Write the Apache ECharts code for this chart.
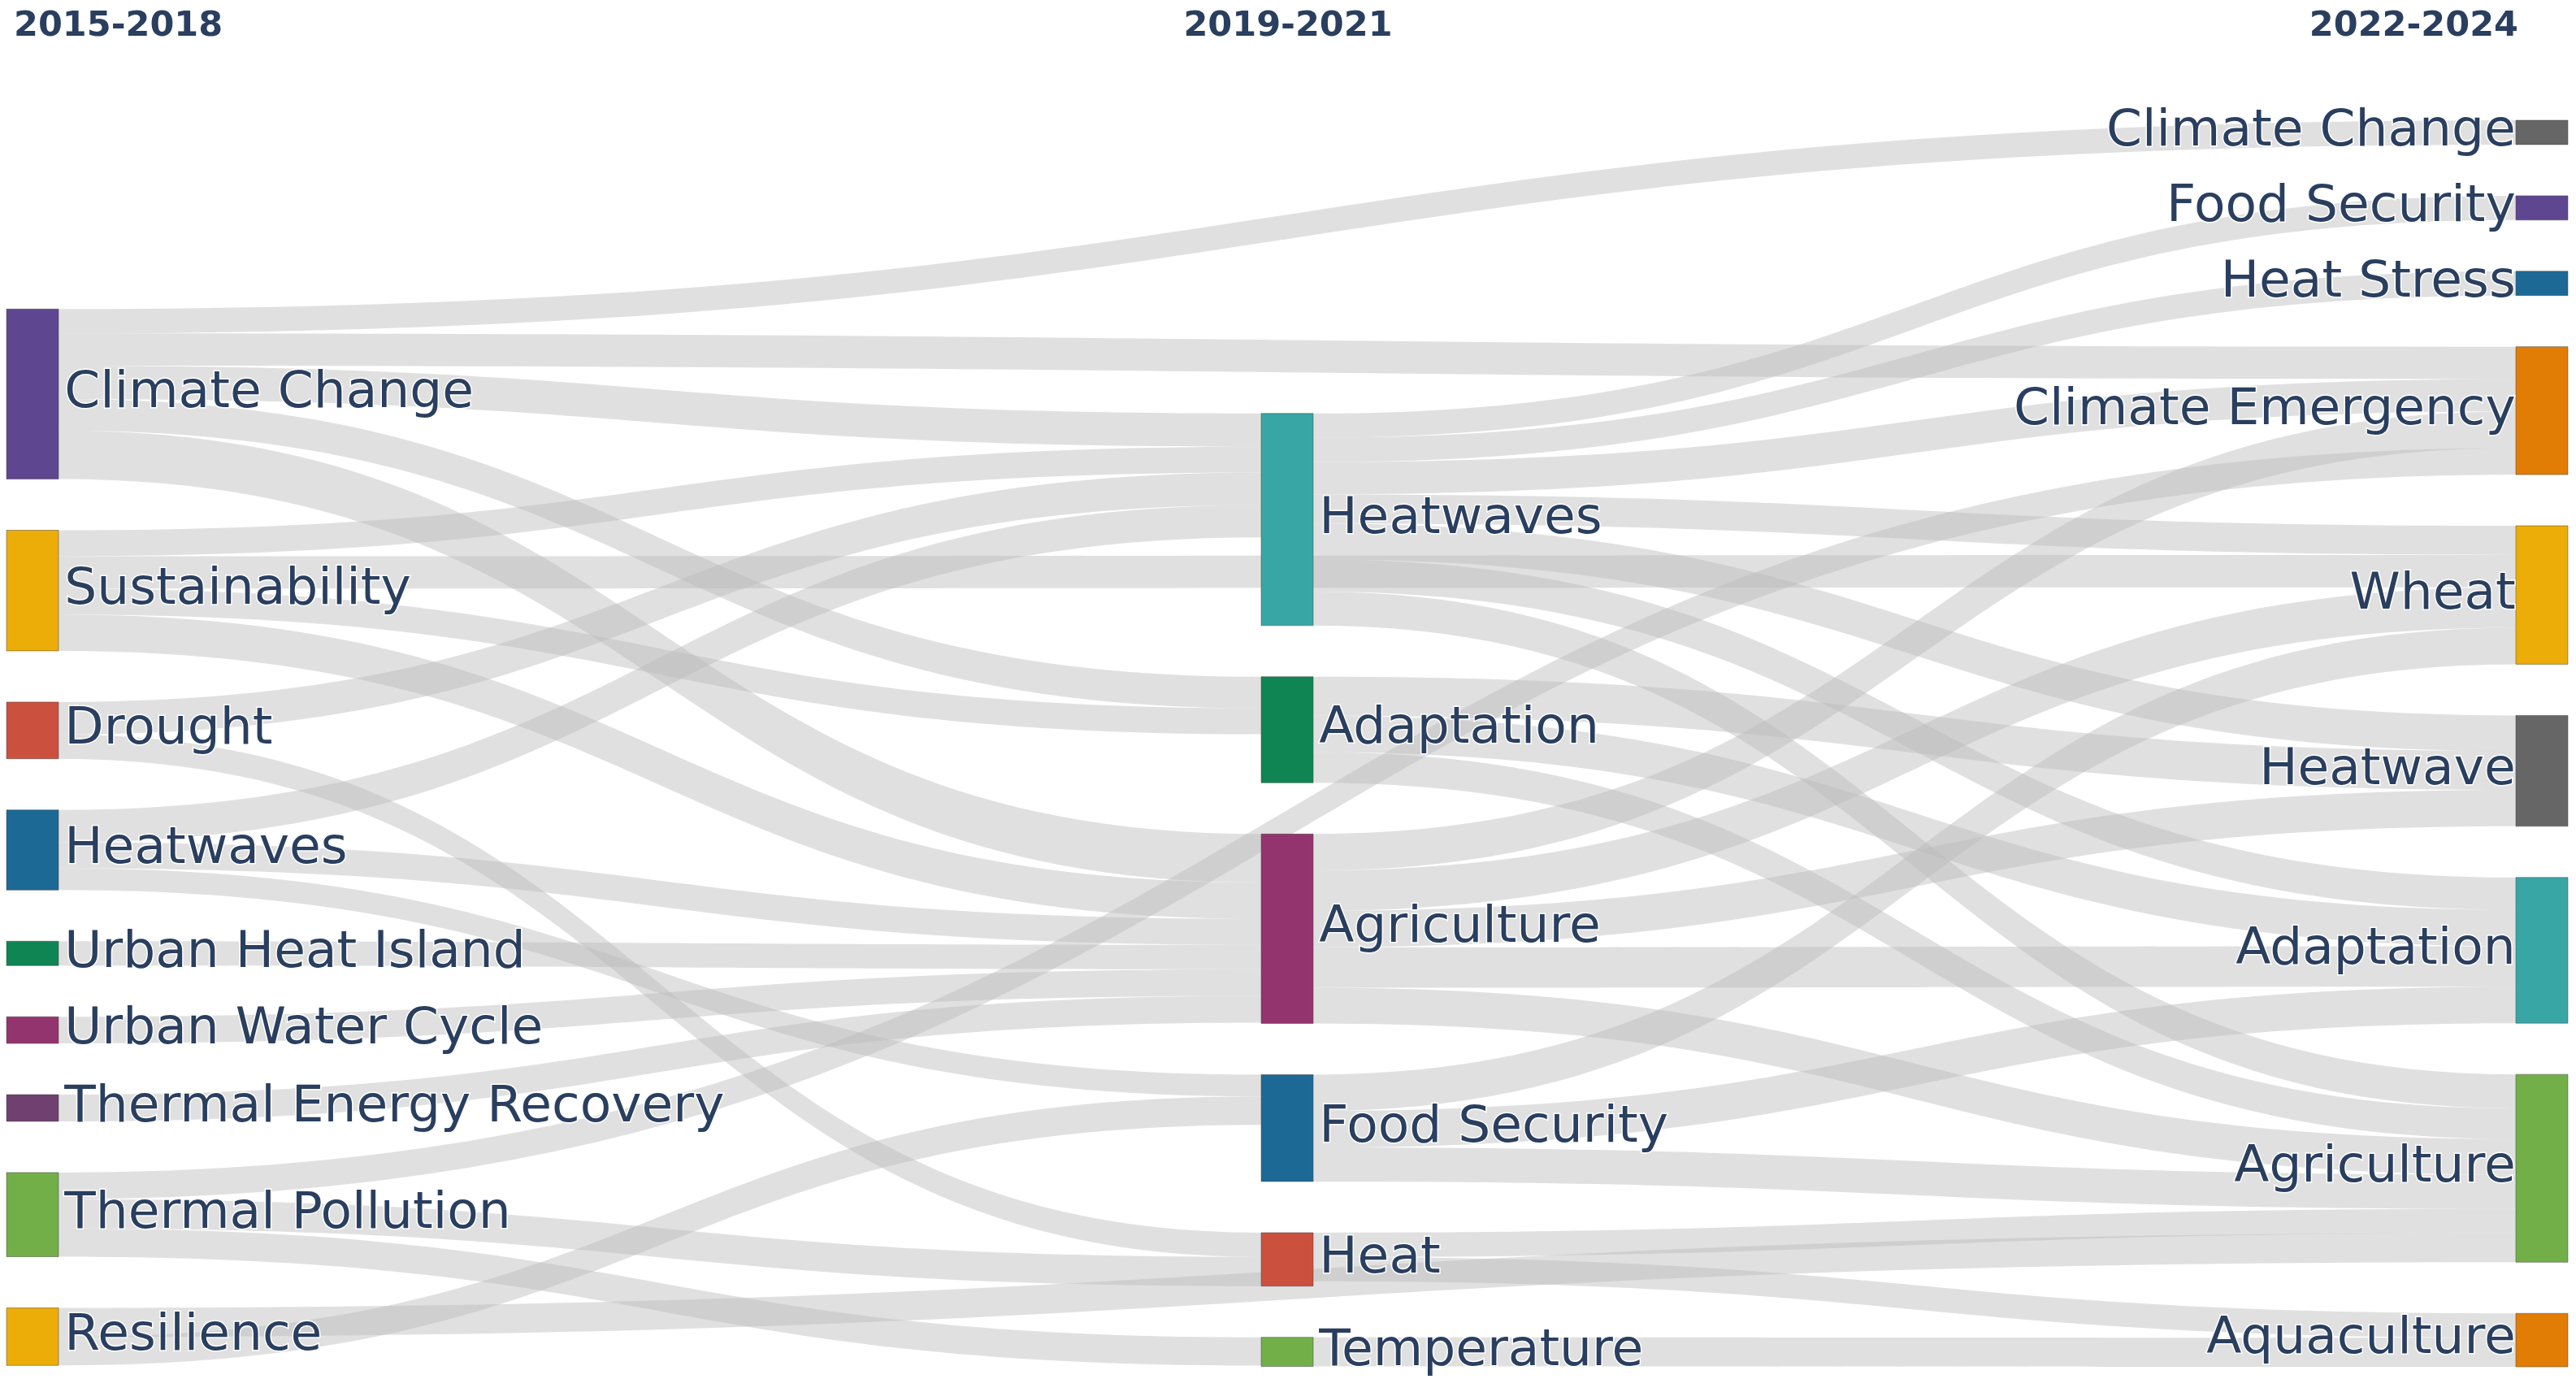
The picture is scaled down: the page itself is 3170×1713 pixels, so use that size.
<!DOCTYPE html>
<html>
<head>
<meta charset="utf-8">
<script src="https://cdn.jsdelivr.net/npm/echarts@6/dist/echarts.min.js"></script>
<style>
html,body{margin:0;padding:0;background:#fff;}
#chart{width:3170px;height:1713px;}
</style>
</head>
<body>
<div id="chart"></div>
<script>
// ---------------- DATA ----------------
const periods = ['2015-2018', '2019-2021', '2022-2024'];

const topics2015 = ['Climate Change', 'Sustainability', 'Drought', 'Heatwaves', 'Urban Heat Island',
  'Urban Water Cycle', 'Thermal Energy Recovery', 'Thermal Pollution', 'Resilience'];
const topics2019 = ['Heatwaves', 'Adaptation', 'Agriculture', 'Food Security', 'Heat', 'Temperature'];
const topics2022 = ['Climate Change', 'Food Security', 'Heat Stress', 'Climate Emergency', 'Wheat',
  'Heatwave', 'Adaptation', 'Agriculture', 'Aquaculture'];

// [source topic, target topic, weight]
const flows2015to2019 = [
  ['Climate Change', 'Heatwaves', 4.1],
  ['Climate Change', 'Adaptation', 3.9],
  ['Climate Change', 'Agriculture', 6.0],
  ['Sustainability', 'Heatwaves', 3.2],
  ['Sustainability', 'Adaptation', 3.2],
  ['Sustainability', 'Agriculture', 4.5],
  ['Drought', 'Heatwaves', 4.0],
  ['Drought', 'Heat', 3.0],
  ['Heatwaves', 'Heatwaves', 4.0],
  ['Heatwaves', 'Agriculture', 3.2],
  ['Heatwaves', 'Food Security', 2.7],
  ['Urban Heat Island', 'Agriculture', 3.0],
  ['Urban Water Cycle', 'Agriculture', 3.3],
  ['Thermal Energy Recovery', 'Agriculture', 3.3],
  ['Thermal Pollution', 'Heat', 3.6],
  ['Thermal Pollution', 'Temperature', 3.5],
  ['Resilience', 'Food Security', 3.5]
];
const flows2015to2022 = [
  ['Climate Change', 'Climate Change', 3.0],
  ['Climate Change', 'Climate Emergency', 4.0],
  ['Sustainability', 'Wheat', 4.0],
  ['Thermal Pollution', 'Climate Emergency', 3.3],
  ['Resilience', 'Agriculture', 3.6]
];
const flows2019to2022 = [
  ['Heatwaves', 'Food Security', 3.0],
  ['Heatwaves', 'Heat Stress', 3.0],
  ['Heatwaves', 'Climate Emergency', 4.0],
  ['Heatwaves', 'Wheat', 3.6],
  ['Heatwaves', 'Heatwave', 4.4],
  ['Heatwaves', 'Adaptation', 4.0],
  ['Heatwaves', 'Agriculture', 4.2],
  ['Adaptation', 'Heatwave', 4.8],
  ['Adaptation', 'Adaptation', 4.5],
  ['Adaptation', 'Agriculture', 3.8],
  ['Agriculture', 'Climate Emergency', 4.5],
  ['Agriculture', 'Wheat', 5.0],
  ['Agriculture', 'Heatwave', 4.5],
  ['Agriculture', 'Adaptation', 5.0],
  ['Agriculture', 'Agriculture', 4.4],
  ['Food Security', 'Wheat', 4.5],
  ['Food Security', 'Adaptation', 4.5],
  ['Food Security', 'Agriculture', 4.2],
  ['Heat', 'Agriculture', 3.0],
  ['Heat', 'Aquaculture', 3.0],
  ['Temperature', 'Aquaculture', 3.6]
];

// ---------------- STYLE / LAYOUT ----------------
const colors2015 = ['#5F4690', '#EDAD08', '#CC503E', '#1D6996', '#0F8554', '#94346E', '#6F4070', '#73AF48', '#EDAD08'];
const colors2019 = ['#38A6A5', '#0F8554', '#94346E', '#1D6996', '#CC503E', '#73AF48'];
const colors2022 = ['#666666', '#5F4690', '#1D6996', '#E17C05', '#EDAD08', '#666666', '#38A6A5', '#73AF48', '#E17C05'];
// invisible head-room at the top of the first two columns (keeps columns bottom-aligned)
const columnHeadroom = [17.0, 29.9];

const FONT = 'DejaVu Sans';
const TEXT = '#2a3f5f';

const id = (p, t) => periods[p] + '|' + t;
const nodes = [];
function addSpacer(col) {
  nodes.push({
    name: 'spacer' + col, depth: col, value: columnHeadroom[col],
    itemStyle: { color: 'rgba(0,0,0,0)', borderWidth: 0 },
    label: { show: false }, emphasis: { disabled: true }
  });
}
function addColumn(col, topics, colors, pos, dist) {
  topics.forEach((t, i) => nodes.push({
    name: id(col, t), display: t, depth: col,
    itemStyle: { color: colors[i], borderColor: '#444', borderWidth: 0.5 },
    label: { position: pos, distance: dist }
  }));
}
addSpacer(0); addColumn(0, topics2015, colors2015, 'right', 7);
addSpacer(1); addColumn(1, topics2019, colors2019, 'right', 7);
addColumn(2, topics2022, colors2022, 'left', 0);

const links = [];
flows2015to2019.forEach(f => links.push({ source: id(0, f[0]), target: id(1, f[1]), value: f[2] }));
flows2019to2022.forEach(f => links.push({ source: id(1, f[0]), target: id(2, f[1]), value: f[2] }));
flows2015to2022.forEach(f => links.push({ source: id(0, f[0]), target: id(2, f[1]), value: f[2] }));

const titleStyle = { fontFamily: FONT, fontWeight: 'bold', fontSize: 43, color: TEXT };
const chart = echarts.init(document.getElementById('chart'));
chart.setOption({
  backgroundColor: '#fff',
  animation: false,
  title: [
    { text: periods[0], left: 12, top: 6, textStyle: titleStyle },
    { text: periods[1], left: 'center', top: 6, textStyle: titleStyle },
    { text: periods[2], right: 66, top: 6, textStyle: titleStyle }
  ],
  series: [{
    type: 'sankey',
    left: 8, right: 10, top: 148, bottom: 31,
    nodeWidth: 64,
    nodeGap: 63,
    nodeAlign: 'left',
    layoutIterations: 0,
    draggable: false,
    emphasis: { disabled: true },
    data: nodes,
    links: links,
    label: {
      fontFamily: FONT, fontSize: 63, color: TEXT,
      textBorderColor: '#fff', textBorderWidth: 3,
      formatter: p => p.data.display || ''
    },
    lineStyle: { color: '#bababa', opacity: 0.45, curveness: 0.5 }
  }]
});
</script>
</body>
</html>
